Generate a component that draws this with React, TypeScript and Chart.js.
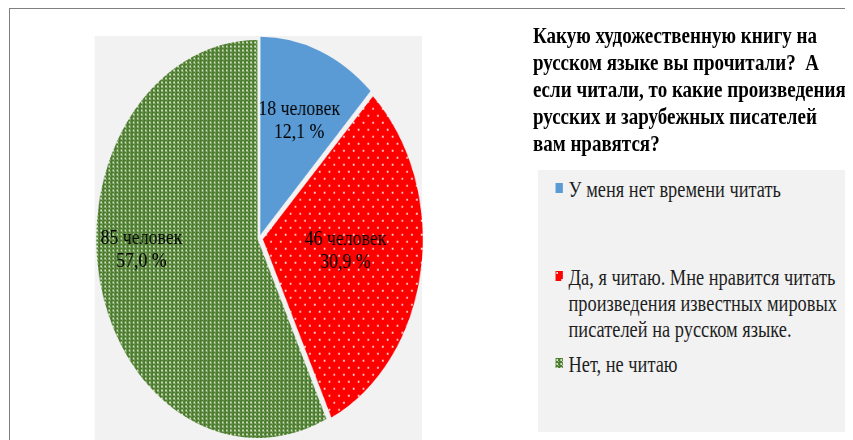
import React, { useEffect, useRef } from "react";
import { Chart, registerables } from "chart.js";

Chart.register(...registerables);

// ---- data ----
const legendLabelLines: string[][] = [
  ["У меня нет времени читать"],
  ["Да, я читаю. Мне нравится читать", "произведения известных мировых", "писателей на русском языке."],
  ["Нет, не читаю"],
];
const categories = legendLabelLines.map((l) => l.join(" "));
const values = [18, 46, 85];
const unitLabel = "человек";
const titleLines = [
  "Какую художественную книгу на",
  "русском языке вы прочитали?  А",
  "если читали, то какие произведения",
  "русских и зарубежных писателей",
  "вам нравятся?",
];

// ---- style ----
const SX = 0.81; // horizontal compression of the whole picture
const FONT = '"Liberation Serif", "Times New Roman", serif';
const BLUE = "#5b9bd5";
const sliceOffsets = [15, 19, 8];
const labelRadius = [0.65, 0.545, 0.74];
const labelShiftDeg = [1, -2.6, 8.2];
const legendTops = [168.5, 256.5, 343.5];

function makeRedTile(): HTMLCanvasElement {
  const c = document.createElement("canvas");
  c.width = 12;
  c.height = 14;
  const g = c.getContext("2d")!;
  g.fillStyle = "#ff0000";
  g.fillRect(0, 0, 12, 14);
  g.fillStyle = "rgba(255,235,235,0.95)";
  g.fillRect(1, 1, 2, 2);
  g.fillRect(7, 8, 2, 2);
  return c;
}

function makeGreenTile(): HTMLCanvasElement {
  const c = document.createElement("canvas");
  c.width = 10;
  c.height = 8;
  const g = c.getContext("2d")!;
  g.fillStyle = "#4b7b2c";
  g.fillRect(0, 0, 10, 8);
  for (let y = 0; y < 8; y++) {
    for (let x = 0; x < 10; x++) {
      const lx = x % 5;
      const ly = y % 4;
      if ((lx === 1 || lx === 2) && (ly === 1 || ly === 2)) {
        g.fillStyle = "#d9e8ce";
        g.fillRect(x, y, 1, 1);
      } else if (lx === 3 && ly === 3) {
        g.fillStyle = "#a9c795";
        g.fillRect(x, y, 1, 1);
      }
    }
  }
  return c;
}

const labelPlugin = {
  id: "sliceLabels",
  afterDatasetsDraw(chart: any) {
    const ctx: CanvasRenderingContext2D = chart.ctx;
    const meta = chart.getDatasetMeta(0);
    const total = values.reduce((a, b) => a + b, 0);
    ctx.save();
    ctx.font = `22px ${FONT}`;
    ctx.fillStyle = "#000000";
    ctx.textAlign = "center";
    ctx.textBaseline = "middle";
    meta.data.forEach((el: any, i: number) => {
      const p = el.getProps(["x", "y", "startAngle", "endAngle", "outerRadius"], true);
      const mid = (p.startAngle + p.endAngle) / 2 + (labelShiftDeg[i] * Math.PI) / 180;
      const r = p.outerRadius * labelRadius[i];
      const cx = p.x + Math.cos(mid) * r;
      const cy = p.y + Math.sin(mid) * r;
      const pct = ((values[i] / total) * 100).toFixed(1).replace(".", ",");
      ctx.fillText(`${values[i]} ${unitLabel}`, cx, cy - 11.5);
      ctx.fillText(`${pct} %`, cx, cy + 11.5);
    });
    ctx.restore();
  },
};

export default function App() {
  const canvasRef = useRef<HTMLCanvasElement | null>(null);
  const markerRefs = useRef<(HTMLCanvasElement | null)[]>([]);

  useEffect(() => {
    const canvas = canvasRef.current;
    if (!canvas) return;
    const ctx = canvas.getContext("2d")!;
    const redTile = makeRedTile();
    const greenTile = makeGreenTile();
    const redPat = ctx.createPattern(redTile, "repeat")!;
    const greenPat = ctx.createPattern(greenTile, "repeat")!;
    const fills: (string | CanvasPattern)[] = [BLUE, redPat, greenPat];

    const chart = new Chart(canvas, {
      type: "pie",
      data: {
        labels: categories,
        datasets: [
          {
            data: values,
            backgroundColor: fills as any,
            borderWidth: 0,
            offset: sliceOffsets,
          } as any,
        ],
      },
      options: {
        animation: false,
        responsive: false,
        radius: 197,
        events: [],
        layout: { padding: 0 },
        plugins: {
          legend: { display: false },
          tooltip: { enabled: false },
        },
      } as any,
      plugins: [labelPlugin as any],
    });

    markerRefs.current.forEach((m, i) => {
      if (!m) return;
      const g = m.getContext("2d")!;
      g.fillStyle = i === 0 ? BLUE : g.createPattern(i === 1 ? redTile : greenTile, "repeat")!;
      g.fillRect(0, 0, m.width, m.height);
    });

    return () => chart.destroy();
  }, []);

  return (
    <div style={{ position: "relative", width: 845, height: 432, overflow: "hidden" }}>
      <div
        style={{
          position: "absolute",
          left: 1,
          top: 0,
          right: 0,
          bottom: 0,
          borderTop: "1px solid #7f7f7f",
          borderLeft: "1px solid #7f7f7f",
        }}
      />
      <div
        style={{
          position: "absolute",
          left: 0,
          top: 0,
          width: 1043,
          height: 432,
          transform: `scaleX(${SX})`,
          transformOrigin: "0 0",
        }}
      >
        <div
          style={{
            position: "absolute",
            left: 107,
            top: 28,
            width: 404,
            height: 420,
            background: "#f2f2f2",
          }}
        />
        <canvas
          ref={canvasRef}
          width={620}
          height={461}
          style={{ position: "absolute", left: 0, top: 0, width: 620, height: 461 }}
        />
        <div
          style={{
            position: "absolute",
            left: 648,
            top: 13.8,
            font: `bold 23.5px ${FONT}`,
            lineHeight: "27px",
            whiteSpace: "pre",
            color: "#000",
          }}
        >
          {titleLines.map((t, i) => (
            <div key={i}>{t}</div>
          ))}
        </div>
        <div
          style={{
            position: "absolute",
            left: 654,
            top: 162,
            width: 400,
            height: 262,
            background: "#f2f2f2",
          }}
        />
        {legendLabelLines.map((lines, i) => (
          <div
            key={i}
            style={{
              position: "absolute",
              left: 676,
              top: legendTops[i],
              font: `22.7px ${FONT}`,
              lineHeight: "26px",
              whiteSpace: "pre",
              color: "#1e1e1e",
            }}
          >
            <canvas
              ref={(el) => {
                markerRefs.current[i] = el;
              }}
              width={9}
              height={10}
              style={{ position: "absolute", left: 0, top: 6, width: 9, height: 10 }}
            />
            <div style={{ marginLeft: 16 }}>
              {lines.map((l, j) => (
                <div key={j}>{l}</div>
              ))}
            </div>
          </div>
        ))}
      </div>
    </div>
  );
}
